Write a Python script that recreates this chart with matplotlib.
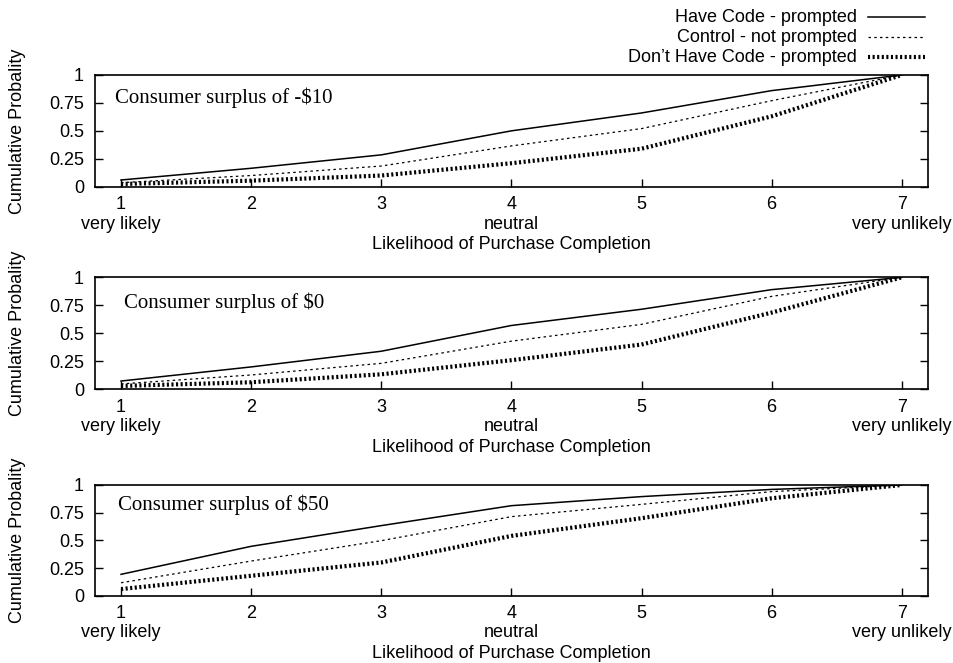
import matplotlib
matplotlib.use('Agg')
import matplotlib.pyplot as plt
from matplotlib.lines import Line2D

plt.rcParams['font.family'] = ['Liberation Sans', 'DejaVu Sans']
plt.rcParams['font.size'] = 13

# likelihood scale 1..7
levels = [1, 2, 3, 4, 5, 6, 7]
tick_numbers = ['1', '2', '3', '4', '5', '6', '7']
tick_words = ['very likely', '', '', 'neutral', '', '', 'very unlikely']
series_names = ['Have Code - prompted', 'Control - not prompted', 'Don\u2019t Have Code - prompted']
panel_titles = ['Consumer surplus of -$10', 'Consumer surplus of $0', 'Consumer surplus of $50']

# cumulative probabilities
have_m10 = [0.06, 0.165, 0.285, 0.50, 0.66, 0.86, 1.0]
ctrl_m10 = [0.036, 0.10, 0.185, 0.365, 0.52, 0.77, 1.0]
dont_m10 = [0.024, 0.054, 0.10, 0.21, 0.34, 0.63, 1.0]

have_0 = [0.074, 0.20, 0.34, 0.57, 0.715, 0.89, 1.0]
ctrl_0 = [0.048, 0.128, 0.232, 0.43, 0.58, 0.83, 1.0]
dont_0 = [0.03, 0.063, 0.134, 0.26, 0.40, 0.685, 1.0]

have_50 = [0.193, 0.446, 0.633, 0.813, 0.895, 0.96, 1.0]
ctrl_50 = [0.117, 0.313, 0.497, 0.714, 0.825, 0.94, 1.0]
dont_50 = [0.06, 0.18, 0.30, 0.54, 0.70, 0.88, 1.0]

panels = [(have_m10, ctrl_m10, dont_m10),
          (have_0, ctrl_0, dont_0),
          (have_50, ctrl_50, dont_50)]

# line styles: solid, thin short dashes, thick dots
styles = [dict(color='black', lw=1.1, ls='-'),
          dict(color='black', lw=0.9, ls=(0, (2.0, 2.6))),
          dict(color='black', lw=3.0, ls=(0, (0.5, 0.6)), dash_capstyle='butt')]

fig = plt.figure(figsize=(9.54, 6.63), dpi=100)

# axes boxes in figure fraction (left, bottom, width, height)
boxes = [(0.0996, 0.7184, 0.8729, 0.1685),
         (0.0996, 0.4128, 0.8729, 0.1689),
         (0.0996, 0.1015, 0.8729, 0.1670)]
title_pos = [(0.953, 0.80), (1.02, 0.77), (0.98, 0.82)]

for i, box in enumerate(boxes):
    ax = fig.add_axes(box)
    for vals, st in zip(panels[i], styles):
        ax.plot(levels, vals, **st)
    ax.set_xlim(0.8, 7.2)
    ax.set_ylim(0, 1)
    ax.set_xticks(levels)
    ax.set_xticklabels(tick_numbers)
    ax.set_yticks([0, 0.25, 0.5, 0.75, 1])
    ax.set_yticklabels(['0', '0.25', '0.5', '0.75', '1'])
    ax.tick_params(axis='x', direction='in', length=6, width=1, pad=7, top=False)
    ax.tick_params(axis='y', direction='in', length=6, width=1, pad=8, right=True)
    for sp in ax.spines.values():
        sp.set_linewidth(1.2)
    # second line of the tick labels
    for lv, word in zip(levels, tick_words):
        if word:
            ax.text(lv, -0.335, word, transform=ax.get_xaxis_transform(),
                    ha='center', va='center')
    ax.set_xlabel('Likelihood of Purchase Completion')
    ax.xaxis.set_label_coords(0.5, -0.52)
    ax.xaxis.label.set_va('center')
    ax.set_ylabel('Cumulative Probality')
    ax.yaxis.set_label_coords(-0.0925, 0.5)
    ax.yaxis.label.set_va('center')
    tx, ty = title_pos[i]
    ax.text(tx, ty, panel_titles[i], family='Liberation Serif', fontsize=15,
            ha='left', va='center')

# key at top right
key_y = [17, 37, 57]
for name, st, yp in zip(series_names, styles, key_y):
    yf = 1 - yp / 663
    fig.text(857 / 954, yf, name, ha='right', va='center')
    fig.add_artist(Line2D([868 / 954, 925 / 954], [yf, yf], transform=fig.transFigure, **st))

fig.savefig('out.png', dpi=100)
